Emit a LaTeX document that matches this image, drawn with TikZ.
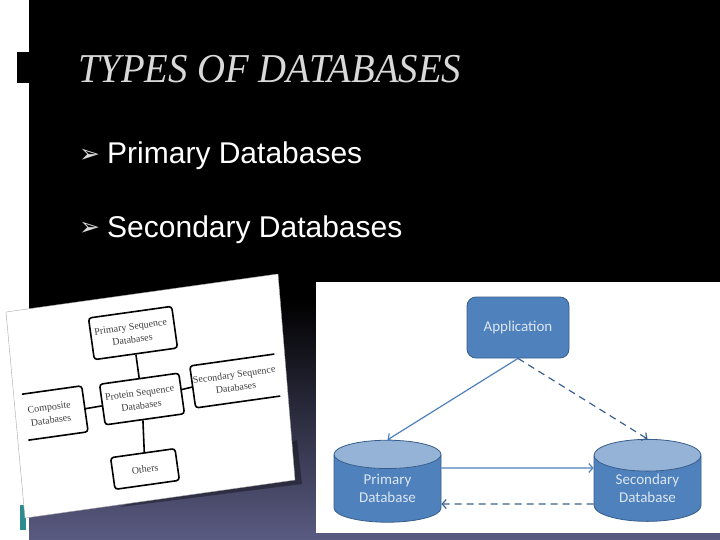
\documentclass[tikz,border=0pt]{standalone}
\usepackage{fontspec}
\setmainfont{Liberation Sans}
\newfontfamily\titlefont[FakeStretch=0.945]{Liberation Serif}
\newfontfamily\seqfont{Liberation Serif}
\newfontfamily\bulletfont{DejaVu Sans}
\newfontfamily\dbfont{Carlito}
\usetikzlibrary{shapes.geometric,arrows.meta}
\definecolor{dbblue}{HTML}{4F81BD}
\definecolor{dbedge}{HTML}{385D8A}
\definecolor{dbtop}{HTML}{95B3D7}
\definecolor{dbtext}{HTML}{DCE6F1}
\definecolor{slate}{HTML}{5A5B82}
\definecolor{tealbar}{HTML}{2E8B8F}
\tikzset{
  seqbox/.style={draw=black,line width=1.6pt,rounded corners=3pt,fill=white,rotate=8,align=center,inner sep=1pt,font=\fontsize{10}{13}\seqfont,text=black!75},
  seqopen/.style={rotate=8,align=center,inner sep=1pt,font=\fontsize{10}{13}\seqfont,text=black!75},
  seqline/.style={line width=1.6pt,draw=black},
  dbcyl/.style={cylinder,shape border rotate=90,aspect=0.5,draw=dbedge,line width=0.8pt,cylinder uses custom fill,
    cylinder body fill=dbblue,cylinder end fill=dbtop,minimum width=107pt,minimum height=82pt,align=center,
    font=\fontsize{15}{18}\dbfont,text=dbtext,inner sep=0pt},
  dbsolid/.style={dbblue,line width=1.2pt,-{Straight Barb[length=4pt,width=9pt]}},
  dbdash/.style={dbedge!85!dbblue,line width=1.2pt,dash pattern=on 7pt off 5pt,-{Straight Barb[length=4pt,width=9pt]}},
  bulletitem/.style={anchor=base west,font=\fontsize{30}{31}\selectfont,text=white,inner sep=0pt},
  bulletmark/.style={anchor=base west,font=\fontsize{25}{26}\bulletfont,text=white!85!black,inner sep=0pt}
}
\begin{document}
\begin{tikzpicture}[x=1pt,y=-1pt]
  \useasboundingbox (0,0) rectangle (720,540);
  %%% Slide background
  \fill[white] (0,0) rectangle (29,540);
  \fill[black] (29,0) rectangle (720,300);
  \shade[top color=black,bottom color=slate] (29,300) rectangle (720,540);
  \fill[black] (17,52) rectangle (29,83);
  \fill[tealbar] (20,505) rectangle (26,530);
  %%% Title and list
  \node[anchor=base west,inner sep=0pt,text=white!85!black,font=\fontsize{41}{42}\titlefont\itshape] (title) at (78,83) {TYPES OF DATABASES};
  \node[bulletmark] (markone) at (79,163) {➢};
  \node[bulletitem] (primaryitem) at (107,164) {Primary Databases};
  \node[bulletmark] (marktwo) at (79,236) {➢};
  \node[bulletitem] (secondaryitem) at (107,237) {Secondary Databases};
  %%% Left picture
  \fill[black,opacity=.35] (120,507) -- (302,484) -- (297,440) -- cycle;
  \fill[white,draw=black!35,line width=.4pt] (6,312) -- (278,274) -- (295,480) -- (25,518) -- cycle;
  \node[seqbox,minimum width=84pt,minimum height=42pt] (primaryseq) at (133,333) {Primary Sequence\hspace*{3pt}\\Databases\hspace*{3pt}};
  \node[seqbox,minimum width=80pt,minimum height=41pt] (proteinseq) at (142,399) {Protein Sequence\hspace*{3pt}\\Databases\hspace*{3pt}};
  \node[seqbox,minimum width=65pt,minimum height=32pt] (others) at (145,469) {Others};
  \node[seqopen,minimum width=83pt,minimum height=42pt] (secondaryseq) at (235,381) {Secondary Sequence\\Databases};
  \node[seqopen,minimum width=60pt,minimum height=46pt] (compositeseq) at (55,413) {Composite\hspace*{10pt}\\Databases\hspace*{10pt}};
  \draw[seqline,rounded corners=3pt] (secondaryseq.north east) -- (secondaryseq.north west) -- (secondaryseq.south west) -- (secondaryseq.south east);
  \draw[seqline,rounded corners=3pt] (compositeseq.north west) -- (compositeseq.north east) -- (compositeseq.south east) -- (compositeseq.south west);
  \draw[seqline] (primaryseq) -- (proteinseq);
  \draw[seqline] (proteinseq) -- (others);
  \draw[seqline] (proteinseq) -- (secondaryseq.west);
  \draw[seqline] (proteinseq) -- (compositeseq.east);
  %%% Right picture
  \fill[white] (316,282) rectangle (720,533);
  \node[draw=dbedge,line width=0.8pt,fill=dbblue,rounded corners=9pt,minimum width=102pt,minimum height=61pt,text=dbtext,font=\fontsize{15}{18}\dbfont] (application) at (518,327.5) {Application};
  \node[dbcyl] (primarydb) at (387.5,488.5) {Primary\\Database};
  \node[dbcyl] (secondarydb) at (647.5,488.5) {Secondary\\Database};
  \draw[dbsolid] (application.south) -- (primarydb.top);
  \draw[dbdash] (application.south) -- (secondarydb.top);
  \draw[dbsolid] ([yshift=20.5pt]primarydb.east) -- ([yshift=20.5pt]secondarydb.west);
  \draw[dbdash] ([yshift=-15.5pt]secondarydb.west) -- ([yshift=-15.5pt]primarydb.east);
\end{tikzpicture}
\end{document}
